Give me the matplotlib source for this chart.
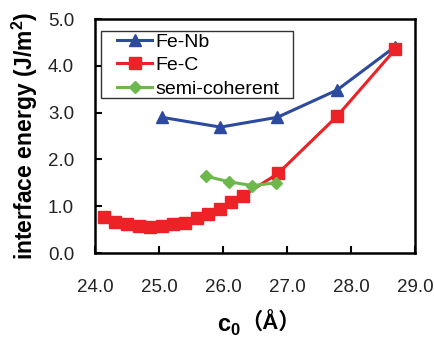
import matplotlib
matplotlib.use("Agg")
import matplotlib.pyplot as plt
from matplotlib.patches import Rectangle

fenb_x = [25.04, 25.96, 26.85, 27.78, 28.68]
fenb_y = [2.90, 2.69, 2.90, 3.48, 4.40]

fec_x = [24.14, 24.32, 24.50, 24.68, 24.86, 25.04, 25.22, 25.40, 25.59, 25.77,
         25.95, 26.13, 26.31, 26.86, 27.78, 28.69]
fec_y = [0.76, 0.67, 0.61, 0.57, 0.56, 0.58, 0.62, 0.65, 0.74, 0.83,
         0.95, 1.08, 1.22, 1.70, 2.92, 4.35]

semi_x = [25.74, 26.10, 26.46, 26.83]
semi_y = [1.64, 1.52, 1.44, 1.50]

xticks = [24.0, 25.0, 26.0, 27.0, 28.0, 29.0]
yticks = [0.0, 1.0, 2.0, 3.0, 4.0, 5.0]

plt.rcParams['font.family'] = ['Liberation Sans', 'DejaVu Sans', 'Noto Sans CJK SC']
plt.rcParams['mathtext.fontset'] = 'custom'
plt.rcParams['mathtext.rm'] = 'Liberation Sans'
plt.rcParams['mathtext.bf'] = 'Liberation Sans:bold'

W, H = 434, 343
fig = plt.figure(figsize=(W / 100, H / 100), dpi=100)
ax = fig.add_axes([95 / W, 1 - 253 / H, 320 / W, 234 / H])

ax.plot(fenb_x, fenb_y, color='#2c4a9e', lw=2.2, marker='^', ms=9, label='Fe-Nb', zorder=3)
ax.plot(fec_x, fec_y, color='#ec2226', lw=2.2, marker='s', ms=9, label='Fe-C', zorder=4)
ax.plot(semi_x, semi_y, color='#6cb84a', lw=2.2, marker='D', ms=6.5, label='semi-coherent', zorder=5)

ax.set_xlim(24, 29)
ax.set_ylim(0, 5)
ax.set_xticks(xticks)
ax.set_yticks(yticks)
ax.set_xticklabels([f"{v:.1f}" for v in xticks])
ax.set_yticklabels([f"{v:.1f}" for v in yticks])
ax.tick_params(direction='in', length=5, width=1.5, labelsize=13.5, colors='black', labelcolor='#222222')
ax.tick_params(axis='x', pad=19)
ax.tick_params(axis='y', pad=15)
for s in ax.spines.values():
    s.set_linewidth(1.8)

ax.set_ylabel('interface energy (J/m$^\\mathbf{2}$)', fontsize=16.5, fontweight='bold', labelpad=6)

# x label: c0 (Å)
fig.text(241 / W, 1 - 327 / H, 'c$_\\mathbf{0}$', fontsize=17, fontweight='bold',
         ha='right', va='center')
fig.text(240 / W, 1 - 324 / H, '\uff08Å\uff09', fontsize=16, fontweight='bold',
         ha='left', va='center', family=['Liberation Sans', 'Noto Sans CJK SC'])

leg = ax.legend(loc='upper left', bbox_to_anchor=(117 / W, 1 - 33 / H),
                bbox_transform=fig.transFigure, fontsize=14, frameon=False,
                handlelength=1.8, handletextpad=0.15,
                borderpad=0.0, labelspacing=0.3, borderaxespad=0.0)
fig.patches.append(Rectangle((101 / W, 1 - 98 / H), 192 / W, 67 / H,
                             transform=fig.transFigure, fill=False,
                             edgecolor='#333333', lw=1.0, zorder=10))

fig.savefig('out.png', dpi=100)
